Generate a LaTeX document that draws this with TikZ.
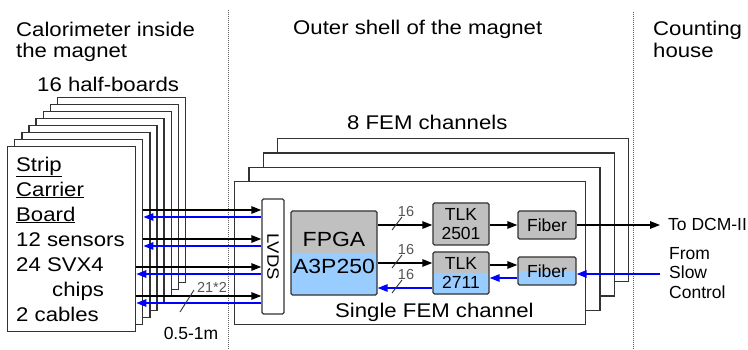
\documentclass[tikz,border=0pt]{standalone}
\usepackage{fontspec}
\setmainfont{Liberation Sans}
\newfontfamily\wide{Liberation Sans}[FakeStretch=1.12]
\usetikzlibrary{arrows.meta}
\definecolor{linec}{HTML}{333333}
\definecolor{grayf}{HTML}{C0C0C0}
\definecolor{bluef}{HTML}{99CCFF}
\definecolor{arrb}{HTML}{0000FF}
\definecolor{lblc}{HTML}{555555}
\definecolor{dotc}{HTML}{606060}
\begin{document}
\begin{tikzpicture}[x=1pt,y=-1pt,
  board/.style={draw=linec, line width=1.3pt, fill=white, minimum width=128pt, minimum height=185pt, inner sep=0pt, anchor=north west},
  fem/.style={draw=linec, line width=1.3pt, fill=white, minimum width=351pt, minimum height=143pt, inner sep=0pt, anchor=north west},
  blk/.style={draw=linec, line width=1.3pt, rounded corners=1.5pt, inner sep=0pt, align=center},
  grayblk/.style={blk, fill=grayf},
  halfblue/.style={blk, fill=grayf, path picture={\fill[bluef] (path picture bounding box.west) rectangle (path picture bounding box.south east);}},
  big/.style={font=\wide\fontsize{19.8}{21}\selectfont, inner sep=0pt},
  small/.style={font=\fontsize{17.5}{19.5}\selectfont, inner sep=0pt},
  boxtxt/.style={font=\fontsize{17.5}{19}\selectfont},
  lbl/.style={font=\fontsize{14.5}{15}\selectfont, inner sep=0pt, text=lblc},
  blkarrow/.style={draw=black, line width=1.4pt, -{Triangle[length=10pt,width=7.5pt]}},
  bluarrow/.style={draw=arrb, line width=1.4pt, -{Triangle[length=10pt,width=7.5pt]}},
  slash/.style={draw=linec, line width=0.9pt},
  sep/.style={draw=dotc, line width=1pt, dash pattern=on 1pt off 1pt}
]
\useasboundingbox (0,0) rectangle (748,350);
\fill[white] (0,0) rectangle (748,350);

% separators
\draw[sep] (228,10) -- (228,350);
\draw[sep] (633,12) -- (633,350);

% headers
\node[big, anchor=north west, align=left] (h1) at (16,21.5) {Calorimeter inside\\the magnet};
\node[big, anchor=base west] (h2) at (293,35) {Outer shell of the magnet};
\node[big, anchor=north west, align=left, font=\wide\fontsize{19.8}{22}\selectfont] (h3) at (653,21) {Counting\\house};

% half boards
\node[big, anchor=base west] (hb) at (37,92) {16 half-boards};
\foreach \k in {7,6,...,1} {
  \node[board] (b\k) at ({7+7.1*\k},{146-7*\k}) {};
}
\node[board] (b0) at (7,146) {};
\node[big, anchor=north west, align=left, font=\wide\fontsize{19.8}{25}\selectfont] (sct) at (16,156.5)
  {\underline{Strip}\\\underline{Carrier}\\\underline{Board}\\12 sensors\\24 SVX4\\\hspace*{36pt}chips\\2 cables};

% FEM channels
\node[big, anchor=base west] (fc) at (347,130) {8 FEM channels};
\foreach \k in {3,2,1} {
  \node[fem] (f\k) at ({234+14.3*\k},{181-14.3*\k}) {};
}
\node[fem] (f0) at (234,181) {};
\node[big, anchor=base west] (sfc) at (335,317) {Single FEM channel};

% blocks
\node[blk, fill=white, minimum width=22pt, minimum height=115pt] (lvds) at (273,256.5)
  {\rotatebox{-90}{\wide\fontsize{16.5}{18}\selectfont LVDS}};
\node[halfblue, minimum width=86pt, minimum height=84pt, font=\wide\fontsize{20.5}{27}\selectfont] (fpga) at (334,253) {FPGA\\A3P250};
\node[grayblk, boxtxt, minimum width=56pt, minimum height=42pt] (tlk1) at (461,224) {TLK\\2501};
\node[halfblue, boxtxt, minimum width=56pt, minimum height=42pt] (tlk2) at (461,273) {TLK\\2711};
\node[grayblk, boxtxt, minimum width=58pt, minimum height=28pt] (fib1) at (547,225) {Fiber};
\node[halfblue, boxtxt, minimum width=58pt, minimum height=28pt] (fib2) at (547,271) {Fiber};

% board <-> LVDS
\draw[blkarrow] (b1.east |- 0,210) -- (lvds.west |- 0,210);
\draw[bluarrow] (lvds.west |- 0,217) -- (b1.east |- 0,217);
\draw[blkarrow] (b1.east |- 0,239) -- (lvds.west |- 0,239);
\draw[bluarrow] (lvds.west |- 0,246) -- (b1.east |- 0,246);
\draw[blkarrow] (b0.east |- 0,267) -- (lvds.west |- 0,267);
\draw[bluarrow] (lvds.west |- 0,274) -- (b0.east |- 0,274);
\draw[blkarrow] (b0.east |- 0,296) -- (lvds.west |- 0,296);
\draw[bluarrow] (lvds.west |- 0,303) -- (b0.east |- 0,303);
\draw[slash] (180,312) -- (194,290);
\node[lbl] (l212) at (212,287) {21*2};
\node[small] (len) at (191,333) {0.5-1m};

% FPGA <-> TLK
\draw[blkarrow] (fpga.east |- 0,225) -- (tlk1.west |- 0,225);
\draw[blkarrow] (fpga.east |- 0,263) -- (tlk2.west |- 0,263);
\draw[bluarrow] (tlk2.west |- 0,288) -- (fpga.east |- 0,288);
\draw[slash] (392,230) -- (402,217);
\draw[slash] (392,268) -- (402,255);
\draw[slash] (392,293) -- (402,280);
\node[lbl] (n1) at (406,212) {16};
\node[lbl] (n2) at (406,250) {16};
\node[lbl] (n3) at (406,275) {16};

% TLK <-> Fiber
\draw[blkarrow] (tlk1.east |- 0,225) -- (fib1.west |- 0,225);
\draw[blkarrow] (tlk2.east |- 0,265) -- (fib2.west |- 0,265);
\draw[bluarrow] (fib2.west |- 0,278) -- (tlk2.east |- 0,278);

% outside
\coordinate (dcm) at (660,225);
\coordinate (slow) at (660,274);
\draw[blkarrow] (fib1.east) -- (dcm);
\draw[bluarrow] (slow) -- (fib2.east |- slow);
\node[small, anchor=west] (todcm) at (668,224) {To DCM-II};
\node[small, anchor=north west, align=left] (from) at (669,247) {From\\Slow\\Control};
\end{tikzpicture}
\end{document}
